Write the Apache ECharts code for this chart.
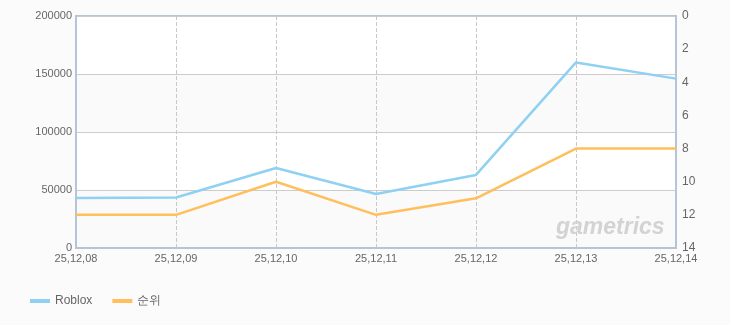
<!DOCTYPE html>
<html><head><meta charset="utf-8">
<script src="https://cdn.jsdelivr.net/npm/echarts@6/dist/echarts.min.js"></script>
<style>html,body{margin:0;padding:0;background:#fbfbfb;}#c{width:730px;height:325px;}</style>
</head><body><div id="c"></div>
<script>
const categories = ['25,12,08','25,12,09','25,12,10','25,12,11','25,12,12','25,12,13','25,12,14'];
const robloxValues = [43000, 43500, 69000, 46500, 63000, 160000, 146000];
const rankValues = [12, 12, 10, 12, 11, 8, 8];
const seriesNames = ['Roblox', '순위'];

const chart = echarts.init(document.getElementById('c'));
const font = 'Liberation Sans';
chart.setOption({
  animation: false,
  backgroundColor: '#fbfbfb',
  grid: { left: 76, right: 54, top: 16, bottom: 77, show: true, borderColor: '#b3c5d7', borderWidth: 2, backgroundColor: '#ffffff' },
  legend: {
    left: 25, top: 290, icon: 'rect', itemWidth: 20, itemHeight: 4, itemGap: 20,
    textStyle: { color: '#666', fontSize: 12, fontFamily: font },
    data: seriesNames
  },
  graphic: [{
    type: 'text', left: 556, top: 216, z: 100, silent: true,
    style: { text: 'gametrics', fill: '#d3d3d3', fontSize: 23, fontStyle: 'italic', fontWeight: 'bold', fontFamily: font }
  }],
  xAxis: {
    type: 'category', data: categories, boundaryGap: false,
    axisLine: { show: true, lineStyle: { color: '#b3c5d7', width: 2 } },
    axisTick: { show: false },
    axisLabel: { color: '#666', fontSize: 11, fontFamily: font, margin: 5, interval: 0 },
    splitLine: { show: true, lineStyle: { color: '#c8c8c8', type: 'dashed', width: 1 } }
  },
  yAxis: [{
    type: 'value', min: 0, max: 200000, interval: 50000, position: 'left',
    axisLine: { show: true, lineStyle: { color: '#b3c5d7', width: 2 } },
    axisTick: { show: false },
    axisLabel: { color: '#666', fontSize: 11, fontFamily: font, margin: 4, formatter: v => String(v) },
    splitLine: { show: true, lineStyle: { color: '#cccccc', width: 1 } },
    splitArea: { show: true, areaStyle: { color: ['#fafafa', '#ffffff'] } }
  }, {
    type: 'value', min: 0, max: 14, interval: 2, inverse: true, position: 'right',
    axisLine: { show: true, lineStyle: { color: '#b3c5d7', width: 2 } },
    axisTick: { show: false },
    axisLabel: { color: '#666', fontSize: 12, fontFamily: font, margin: 6 },
    splitLine: { show: false }
  }],
  series: [{
    name: seriesNames[0], type: 'line', data: robloxValues, yAxisIndex: 0,
    symbol: 'none', lineStyle: { color: '#8fd0f3', width: 2.5 }, itemStyle: { color: '#8fd0f3' }
  }, {
    name: seriesNames[1], type: 'line', data: rankValues, yAxisIndex: 1,
    symbol: 'none', lineStyle: { color: '#ffbf5c', width: 2.5 }, itemStyle: { color: '#ffbf5c' }
  }]
});
</script></body></html>
